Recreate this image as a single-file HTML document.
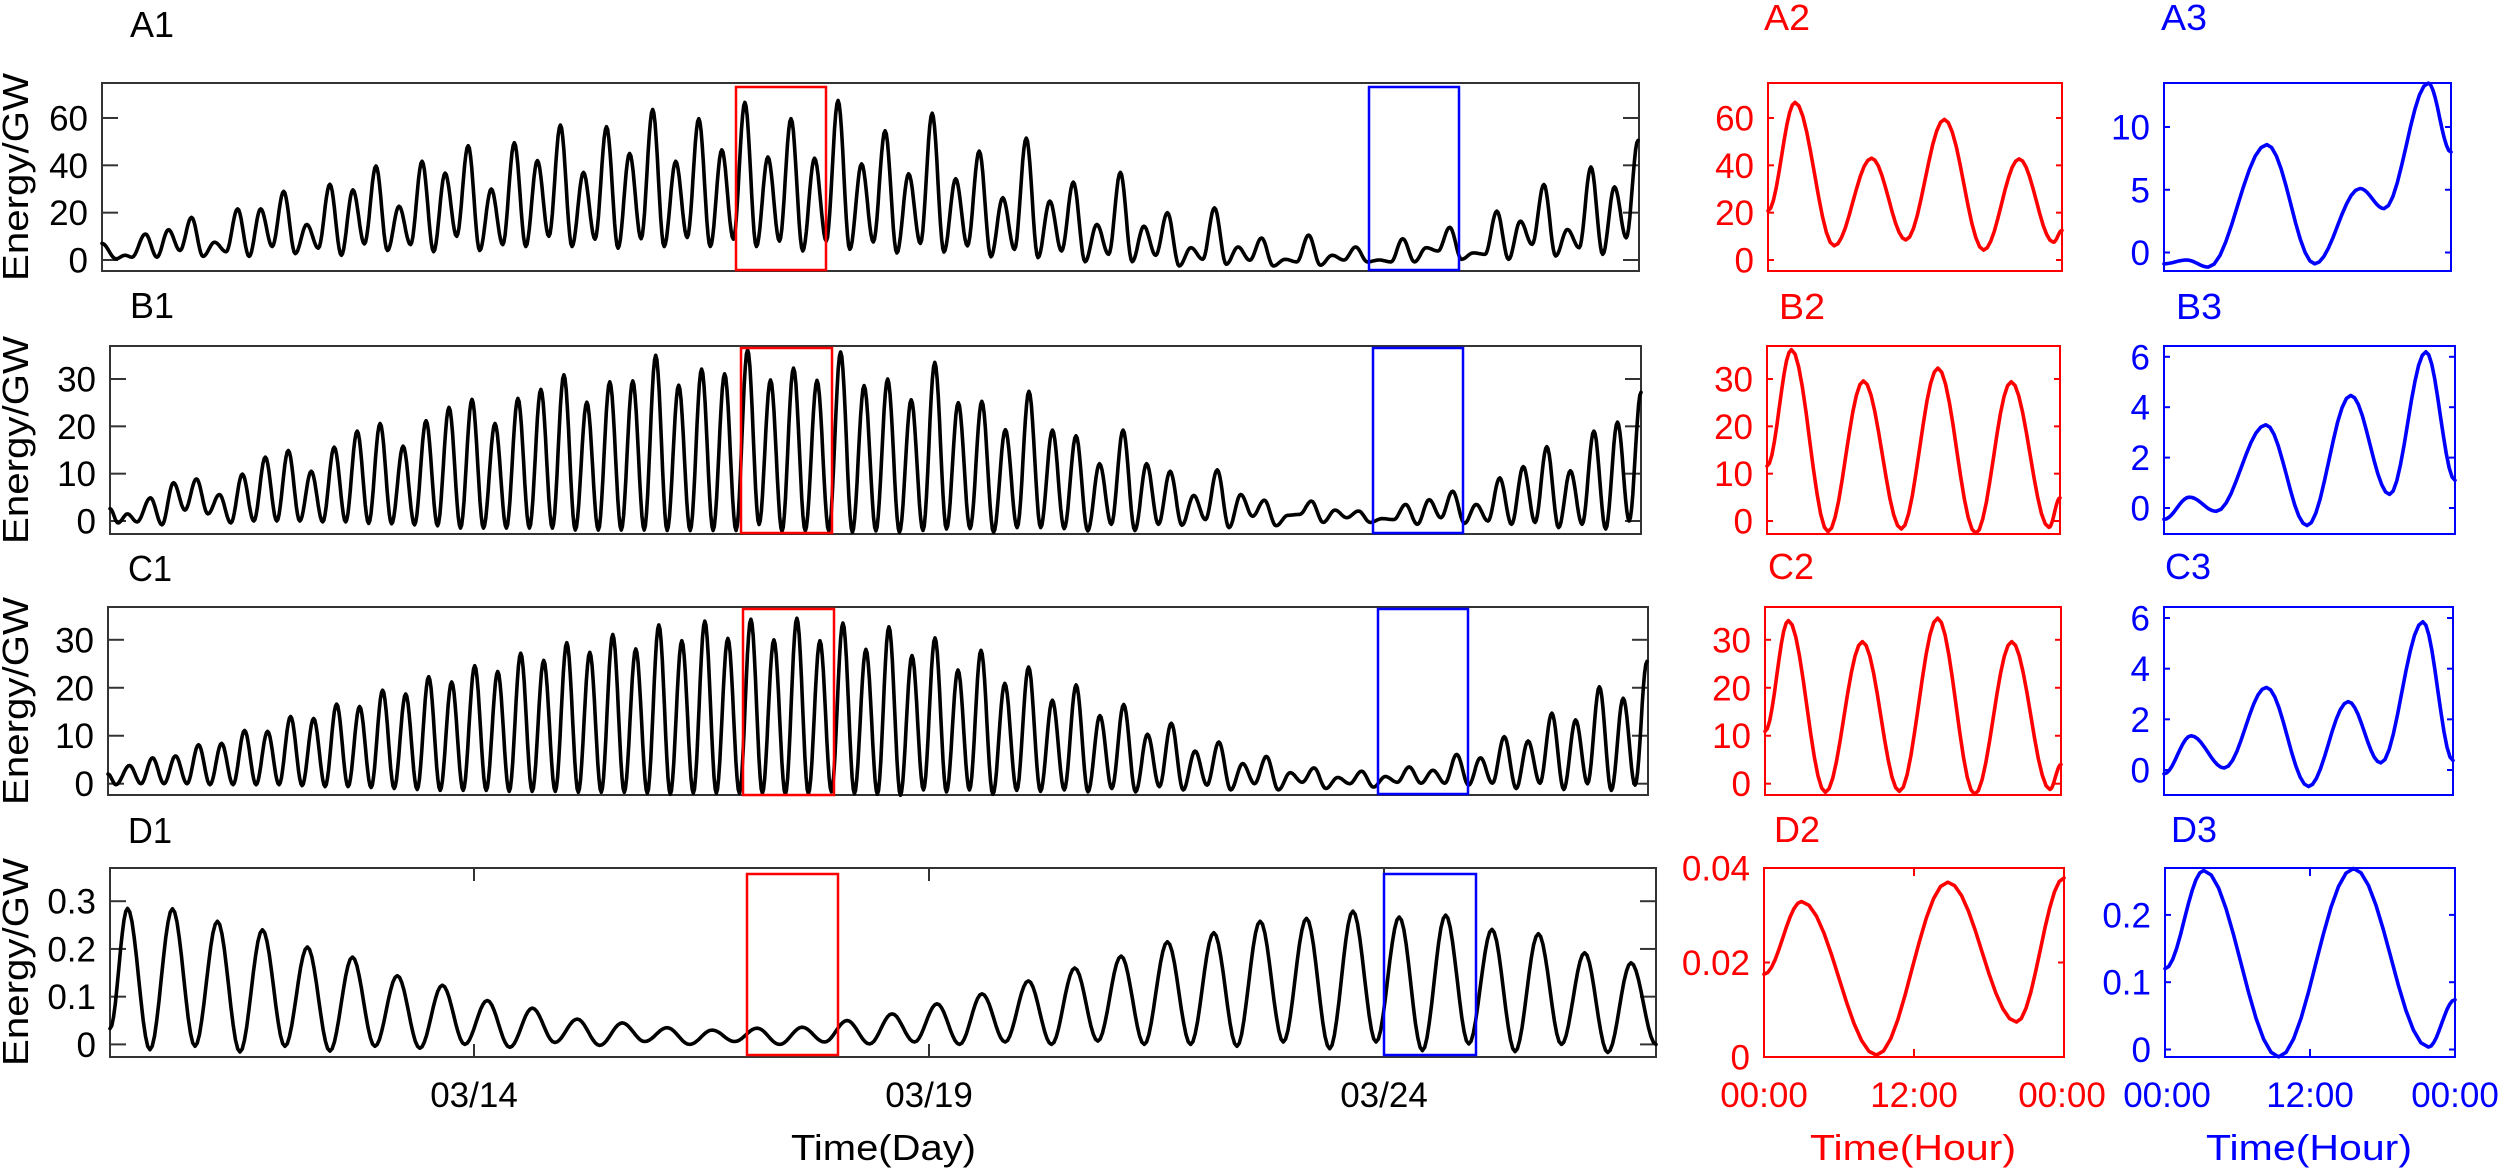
<!DOCTYPE html>
<html><head><meta charset="utf-8"><style>
html,body{margin:0;padding:0;background:#fff;}
svg{display:block;font-family:"Liberation Sans",Arial,sans-serif;}
</style></head><body>
<svg id="s" width="2500" height="1170" viewBox="0 0 2500 1170" xmlns="http://www.w3.org/2000/svg">
<rect width="2500" height="1170" fill="#fff"/>
<g id="g"></g>
<g font-size="36" lengthAdjust="spacingAndGlyphs">
<text x="130" y="37" textLength="44" lengthAdjust="spacingAndGlyphs">A1</text><text x="130" y="318" textLength="44" lengthAdjust="spacingAndGlyphs">B1</text><text x="128" y="581" textLength="44" lengthAdjust="spacingAndGlyphs">C1</text><text x="128" y="843" textLength="44" lengthAdjust="spacingAndGlyphs">D1</text>
<text x="1764" y="30" fill="#f00" textLength="46" lengthAdjust="spacingAndGlyphs">A2</text><text x="2161" y="30" fill="#00f" textLength="46" lengthAdjust="spacingAndGlyphs">A3</text>
<text x="1779" y="319" fill="#f00" textLength="46" lengthAdjust="spacingAndGlyphs">B2</text><text x="2176" y="319" fill="#00f" textLength="46" lengthAdjust="spacingAndGlyphs">B3</text>
<text x="1768" y="579" fill="#f00" textLength="46" lengthAdjust="spacingAndGlyphs">C2</text><text x="2165" y="579" fill="#00f" textLength="46" lengthAdjust="spacingAndGlyphs">C3</text>
<text x="1774" y="842" fill="#f00" textLength="46" lengthAdjust="spacingAndGlyphs">D2</text><text x="2171" y="842" fill="#00f" textLength="46" lengthAdjust="spacingAndGlyphs">D3</text>
</g>
<g font-size="36">
<text transform="translate(28,177) rotate(-90)" text-anchor="middle" textLength="208" lengthAdjust="spacingAndGlyphs">Energy/GW</text>
<text transform="translate(28,440) rotate(-90)" text-anchor="middle" textLength="208" lengthAdjust="spacingAndGlyphs">Energy/GW</text>
<text transform="translate(28,701) rotate(-90)" text-anchor="middle" textLength="208" lengthAdjust="spacingAndGlyphs">Energy/GW</text>
<text transform="translate(28,962) rotate(-90)" text-anchor="middle" textLength="208" lengthAdjust="spacingAndGlyphs">Energy/GW</text>
<text x="791" y="1160" textLength="185" lengthAdjust="spacingAndGlyphs">Time(Day)</text>
<text x="1810" y="1160" textLength="206" lengthAdjust="spacingAndGlyphs" fill="#f00">Time(Hour)</text>
<text x="2206" y="1160" textLength="206" lengthAdjust="spacingAndGlyphs" fill="#00f">Time(Hour)</text>
</g>
<g font-size="35" text-anchor="middle">
<text x="474" y="1107">03/14</text><text x="929" y="1107">03/19</text><text x="1384" y="1107">03/24</text>
<text x="1764" y="1107" fill="#f00">00:00</text><text x="1914" y="1107" fill="#f00">12:00</text><text x="2062" y="1107" fill="#f00">00:00</text>
<text x="2167" y="1107" fill="#00f">00:00</text><text x="2310" y="1107" fill="#00f">12:00</text><text x="2455" y="1107" fill="#00f">00:00</text>
</g>
</svg>
<script>
var NS="http://www.w3.org/2000/svg",G=document.getElementById("g");
function el(t,a,txt){var e=document.createElementNS(NS,t);for(var k in a)e.setAttribute(k,a[k]);if(txt!==undefined)e.textContent=txt;G.appendChild(e);return e;}
function curve(ext,ymap,col,w){
 var d="";for(var i=0;i<ext.length;i++){var x0=ext[i][0],v0=ext[i][1];
  if(i==0){d+="M"+x0.toFixed(1)+","+ymap(v0).toFixed(1);continue;}
  var xp=ext[i-1][0],vp=ext[i-1][1],N=10;
  for(var j=1;j<=N;j++){var s=j/N,x=xp+(x0-xp)*s,v=vp+(v0-vp)*(1-Math.cos(Math.PI*s))/2;d+="L"+x.toFixed(1)+","+ymap(v).toFixed(1);}
 }
 el("path",{d:d,fill:"none",stroke:col,"stroke-width":w,"stroke-linejoin":"round","stroke-linecap":"round"});
}
function axes(L,R,T,B,col,ticks,ymap,tl,lab){
 el("rect",{x:L,y:T,width:R-L,height:B-T,fill:"none",stroke:col,"stroke-width":2});
 ticks.forEach(function(t){var y=ymap(t);
  el("line",{x1:L,y1:y,x2:L+tl,y2:y,stroke:col,"stroke-width":2});
  el("line",{x1:R,y1:y,x2:R-tl,y2:y,stroke:col,"stroke-width":2});
  el("text",{x:L-14,y:y+12.5,"text-anchor":"end","font-size":35,fill:lab||"#000"},String(t));
 });
}
function pk(prefix,P,T,anch,suffix){
 function pos(n){for(var i=0;i<anch.length-1;i++){var a=anch[i],b=anch[i+1];if(n<=b[0]||i==anch.length-2)return a[1]+(b[1]-a[1])*(n-a[0])/(b[0]-a[0]);}}
 var o=prefix.slice();
 for(var n=0;n<P.length;n++){o.push([pos(n),P[n]]);if(n<P.length-1&&T[n]!==undefined)o.push([(pos(n)+pos(n+1))/2,T[n]]);}
 return o.concat(suffix);
}
function hrs(ext,L,R){return ext.map(function(p){return [L+p[0]*(R-L)/24,p[1]];});}
function lin(y0,k){return function(v){return y0-k*v;};}
var K="#000",RD="#f00",BL="#00f",AX="#333";
var yA=lin(260,2.367),yB=lin(521,4.733),yC=lin(783.7,4.797),yD=lin(1044.4,477.3);
var AP=[11,12.8,18,7.5,21.6,21.6,29,15,32,29.6,39.7,22.7,41.7,36.7,48.3,30,49.5,42,57,37,56.3,45,63.6,41.7,59.7,46.5,66.6,43.5,59.7,43,67.4,40.6,54.6,36.4,62,34.3,46,26.3,51.5,24.9,32.9,15,37,14.3,20,5.2,22,5.5,9.3,0.3,10.5,2,5.5,0,9,5.2,13.8,3,20.6,16.4,31.9,12.9,39.3,30.9,50.5];
var AT=[1.2,4,1.5,3.5,1.5,5.7,2.7,5,2,6.8,4,6.5,3.5,10,4,6.5,5.7,10,5.7,8.8,5,9,5.7,9.5,5.7,8.8,5.7,8,3.8,8,4.5,7.6,3,7,3.4,6,1.4,4.5,1,3.8,-0.7,2.4,-0.7,2,-2.5,0.3,-1.8,-0.1,-2.5,-0.8,-2.2,0,-0.8,-0.8,-0.8,3.8,0.3,2.4,0.3,6.6,1.7,5.2,2.4,9.4];
var BP=[4.9,8.1,8.9,5.6,9.9,13.5,14.9,10.5,15.6,19,20.6,15.8,21.2,24,25.7,20.6,25.9,27.8,30.9,25.1,29.4,29.6,35,28.7,32.1,31.1,36.2,29.8,32.3,29.7,35.7,28.6,30,25.6,33.5,25,25.3,19.3,27.4,19.2,18,12.1,19.2,12.1,10.5,5.4,10.8,5.6,4.4,1.2,4.2,2.3,2.1,0.5,3.5,4.5,6.3,3.5,9.1,11.5,15.7,10.6,19,20.9,27.2];
var BT=[-0.8,2.3,1.5,-0.4,0,0,0,-0.2,-0.2,-0.5,-0.6,-0.8,-1,-1.5,-1.5,-1.5,-1.5,-1.5,-1.9,-1.9,-1.9,-1.9,-2,-2,-2,-2,-0.75,-2.2,-2.1,-2.1,-2.4,-2.1,-2.4,-2,-1.7,-1.6,-2.4,-1.4,-1.4,-1.6,-2.1,-0.7,-2,-0.7,-0.9,0.3,-1.4,1,-1,1.4,-0.3,0.7,-0.3,0.3,-0.7,0.7,-0.5,0,-0.7,-0.3,-1.4,-0.7,-1.7,0];
var CP=[3.8,5.4,5.8,8.1,8.4,11.1,10.9,14,13.6,16.6,16.1,19.5,18.7,22.3,21.2,24.6,23.4,27.2,25.7,29.4,27.4,31.1,28.1,33.1,29.8,33.9,30.3,34.3,30,34.5,29.8,33.5,28,32.7,26.7,30.4,23.7,27.8,20.9,24.3,17.4,20.6,14.2,16.5,10.3,12.6,6.8,8.7,4.2,5.7,2.3,3.3,1.3,2.6,1.5,3.5,2.8,6.1,5.4,9.8,8.9,14.7,13.3,20.2,17.8,25.5];
var CT=[0,0,0,-0.2,-0.2,-0.2,-0.2,-0.4,-0.6,-0.6,-0.8,-1,-1.2,-1.4,-1.4,-1.4,-1.6,-1.6,-1.6,-1.8,-1.8,-1.8,-2,-2.2,-2,-2,-2,-2,-2.2,-2.1,-1.7,-2.1,-2.2,-2.4,-1.3,-1.7,-1.3,-2.2,-1.4,-1.6,-1.3,-1.7,-1,-1.7,-0.6,-1.3,-0.3,-1.3,0,-1.3,0.3,-1,0,-0.7,0.3,0.1,0.1,-0.3,0.1,-1,0.1,-1.2,0,-1.4,-0.3];
var DP=[0.285,0.284,0.258,0.24,0.204,0.183,0.144,0.124,0.092,0.076,0.053,0.045,0.035,0.03,0.034,0.036,0.05,0.064,0.085,0.106,0.133,0.16,0.185,0.215,0.234,0.258,0.264,0.279,0.267,0.271,0.241,0.232,0.192,0.171];
var DT=[-0.011,-0.004,-0.016,-0.004,-0.014,-0.004,-0.008,0,-0.006,0.004,-0.002,0.006,0,0.006,0,0.005,0.001,0.005,0,0.005,0,0.007,0,0,-0.004,0.005,-0.009,0.005,-0.013,0.001,-0.015,0,-0.017];
axes(102,1639,83,271,AX,[0,20,40,60],yA,16);
axes(110,1641,346,534,AX,[0,10,20,30],yB,16);
axes(108,1648,607,795,AX,[0,10,20,30],yC,16);
axes(110,1656,868,1057,AX,[0,0.1,0.2,0.3],yD,16);
[474,929,1384].forEach(function(x){el("line",{x1:x,y1:868,x2:x,y2:881,stroke:AX,"stroke-width":2});el("line",{x1:x,y1:1057,x2:x,y2:1044,stroke:AX,"stroke-width":2});});
curve(pk([[102,7],[116,0.5],[125,2],[132,1.2]],AP,AT,[[0,145.4],[28,791],[64,1638]],[]),yA,K,3.6);
curve(pk([[110,2.6],[118,-0.4],[127.5,1.5],[137,-0.2]],BP,BT,[[0,150.5],[28,793.5],[64,1641]],[]),yB,K,3.6);
curve(pk([[108,2],[116,-0.2]],CP,CT,[[0,129.5],[37,981],[65,1647]],[]),yC,K,3.6);
curve(pk([[110,0.033]],DP,DT,[[0,127.5],[19,982],[33,1631]],[[1656,0]]),yD,K,3.6);
function box(x1,x2,y1,y2,c){el("rect",{x:x1,y:y1,width:x2-x1,height:y2-y1,fill:"none",stroke:c,"stroke-width":2.5});}
box(736,826,87,270,RD);box(1369,1459,87,270,BL);
box(741,832,348,533,RD);box(1373,1463,348,533,BL);
box(743,834,609,795,RD);box(1378,1468,609,794,BL);
box(747,838,874,1055,RD);box(1384,1476,874,1055,BL);
var yA2=lin(260,2.367),yA3=lin(252.5,12.55),yB2=lin(521,4.733),yB3=lin(508,25.2),yC2=lin(783.7,4.797),yC3=lin(770,25.33),yD2=lin(1057,4725),yD3=lin(1049.5,673);
axes(1768,2062,83,271,RD,[0,20,40,60],yA2,6,RD);
axes(2164,2451,83,271,BL,[0,5,10],yA3,6,BL);
axes(1767,2060,346,534,RD,[0,10,20,30],yB2,6,RD);
axes(2164,2455,346,534,BL,[0,2,4,6],yB3,6,BL);
axes(1765,2061,607,795,RD,[0,10,20,30],yC2,6,RD);
axes(2164,2453,607,795,BL,[0,2,4,6],yC3,6,BL);
axes(1764,2064,868,1057,RD,[0,0.02,0.04],yD2,6,RD);
axes(2165,2455,868,1057,BL,[0,0.1,0.2],yD3,6,BL);
[[1914,RD],[2310,BL]].forEach(function(a){el("line",{x1:a[0],y1:868,x2:a[0],y2:876,stroke:a[1],"stroke-width":2});el("line",{x1:a[0],y1:1057,x2:a[0],y2:1049,stroke:a[1],"stroke-width":2});});
curve(hrs([[0,20.8],[2.2,66.6],[5.4,6],[8.45,43],[11.25,8.5],[14.4,59.4],[17.6,4.2],[20.5,42.7],[23.3,7.5],[24,12.5]],1768,2062),yA2,RD,3.6);
curve(hrs([[0,-0.9],[1.9,-0.6],[3.7,-1.16],[8.6,8.6],[12.6,-0.9],[16.4,5.1],[18.4,3.5],[22.1,13.5],[24,8]],2164,2451),yA3,BL,3.6);
curve(hrs([[0,11.6],[2,36.2],[5,-2.25],[7.9,29.6],[11,-1.7],[14,32.3],[17.1,-2.6],[20,29.4],[23.1,-1.35],[24,4.9]],1767,2060),yB2,RD,3.6);
curve(hrs([[0,-0.45],[2.1,0.43],[4.3,-0.13],[8.4,3.3],[11.8,-0.7],[15.4,4.47],[18.6,0.54],[21.6,6.2],[24,1.1]],2164,2455),yB3,BL,3.6);
curve(hrs([[0,10.9],[1.9,34],[4.9,-1.8],[7.9,29.6],[10.9,-1.6],[14,34.5],[17,-2.2],[20,29.6],[23.1,-1.2],[24,4]],1765,2061),yC2,RD,3.6);
curve(hrs([[0,-0.15],[2.25,1.35],[5,0.08],[8.5,3.26],[12,-0.65],[15.3,2.7],[18,0.28],[21.5,5.85],[24,0.38]],2164,2453),yC3,BL,3.6);
curve(hrs([[0,0.0175],[3,0.0329],[9,0.0004],[14.7,0.037],[20.2,0.0074],[24,0.0379]],1764,2064),yD2,RD,3.6);
curve(hrs([[0,0.12],[3.2,0.266],[9.4,-0.011],[15.6,0.269],[21.8,0.0035],[24,0.074]],2165,2455),yD3,BL,3.6);
</script>
</body></html>
